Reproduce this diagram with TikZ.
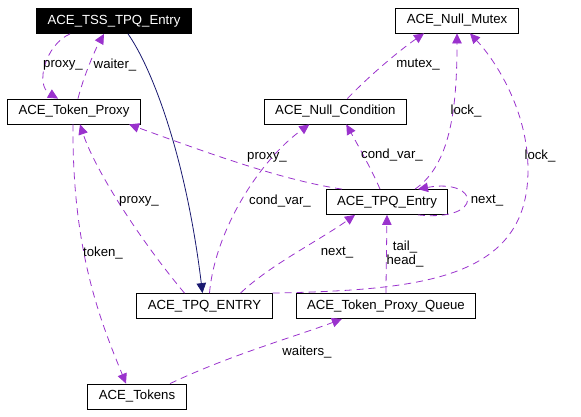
\documentclass[tikz,border=0pt]{standalone}
\usepackage{fontspec}
\setmainfont{Liberation Sans}
\usetikzlibrary{positioning,arrows.meta}

\definecolor{usecol}{HTML}{9A32CD}
\definecolor{inhcol}{HTML}{191970}

\begin{document}
\begin{tikzpicture}[x=1pt, y=-1pt, node distance=23pt,
	cls/.style={draw, rectangle, minimum height=25pt, inner xsep=11pt, line width=0.8pt, font=\fontsize{13.2}{14}\selectfont},
	lbl/.style={inner sep=0pt, align=center, font=\fontsize{13.2}{14}\selectfont},
	use/.style={draw=usecol, line width=0.8pt, dash pattern=on 7pt off 5pt, -{Triangle[length=10pt,width=9.5pt]}},
	inherit/.style={draw=inhcol, line width=0.8pt, -{Triangle[length=10pt,width=9.5pt]}}]
			\useasboundingbox (0,0) rectangle (581,416);

			\node[cls, fill=black, text=white] (tssEntry) at (114,21) {ACE\_TSS\_TPQ\_Entry};
			\node[cls] (tokenProxy) at (74,111.5) {ACE\_Token\_Proxy};
			\node[cls] (nullCond) [right=123pt of tokenProxy] {ACE\_Null\_Condition};
			\node[cls] (nullMutex) at (457,20.5) {ACE\_Null\_Mutex};
			\node[cls] (tpqEntry) at (387,202) {ACE\_TPQ\_Entry};
			\node[cls] (tpqENTRY) at (204.5,306) {ACE\_TPQ\_ENTRY};
			\node[cls] (proxyQueue) [right=of tpqENTRY] {ACE\_Token\_Proxy\_Queue};
			\node[cls] (tokens) at (137,396.5) {ACE\_Tokens};

			\draw[inherit] ([xshift=14pt]tssEntry.south) .. controls (150,65) and (185,150) .. ([xshift=-2pt]tpqENTRY.north);

			\draw[use] ([xshift=4pt]tokenProxy.north) .. controls (84,75) and (95,50) .. ([xshift=-10pt]tssEntry.south) node[lbl] (lWaiter) at (115,65) {waiter\_};
			\draw[use] ([xshift=-44pt]tssEntry.south) .. controls (45,45) and (35,85) .. ([xshift=-16pt]tokenProxy.north) node[lbl] (lProxyA) at (63,65) {proxy\_};
			\draw[use] ([xshift=-20pt]tpqENTRY.north) .. controls (140,240) and (95,170) .. ([xshift=6pt]tokenProxy.south) node[lbl] (lProxyB) at (139,201) {proxy\_};
			\draw[use] ([xshift=-45pt]tpqEntry.north) .. controls (280,180) and (200,150) .. ([xshift=55pt]tokenProxy.south) node[lbl] (lProxyC) at (267,157) {proxy\_};
			\draw[use] ([xshift=-1pt]tokenProxy.south) .. controls (72,250) and (100,320) .. ([xshift=-11pt]tokens.north) node[lbl] (lToken) at (103,253) {token\_};
			\draw[use] ([xshift=33pt]tokens.north) .. controls (230,355) and (300,335) .. ([xshift=-44pt]proxyQueue.south) node[lbl] (lWaiters) at (307,352) {waiters\_};
			\draw[use] ([xshift=12pt]nullCond.north) .. controls (370,75) and (400,50) .. ([xshift=-33pt]nullMutex.south) node[lbl] (lMutex) at (418,65) {mutex\_};
			\draw[use] ([xshift=28pt]tpqEntry.north) .. controls (450,165) and (457,110) .. (nullMutex.south) node[lbl] (lLockA) at (466,111) {lock\_};
			\draw[use] (tpqENTRY.north east) .. controls (420,290) and (528,280) .. (528,170) .. controls (528,110) and (495,60) .. ([xshift=13pt]nullMutex.south) node[lbl] (lLockB) at (540,156) {lock\_};
			\draw[use] ([xshift=-7pt]tpqEntry.north) .. controls (372,170) and (355,140) .. ([xshift=11pt]nullCond.south) node[lbl] (lCondA) at (392,155) {cond\_var\_};
			\draw[use] ([xshift=5pt]tpqENTRY.north) .. controls (215,230) and (260,160) .. ([xshift=-26pt]nullCond.south) node[lbl] (lCondB) at (280,201) {cond\_var\_};
			\draw[use] ([xshift=36pt]tpqENTRY.north) .. controls (270,265) and (320,240) .. ([xshift=-32pt]tpqEntry.south) node[lbl] (lNextA) at (337,253) {next\_};
			\draw[use] (proxyQueue.north) -- (tpqEntry.south) node[lbl] (lTailHead) at (405,254) {tail\_\\head\_};
			\draw[use] ([xshift=31pt]tpqEntry.south) .. controls (485,222) and (480,178) .. ([xshift=31pt]tpqEntry.north) node[lbl] (lNextB) at (487,201) {next\_};
		\end{tikzpicture}
\end{document}
